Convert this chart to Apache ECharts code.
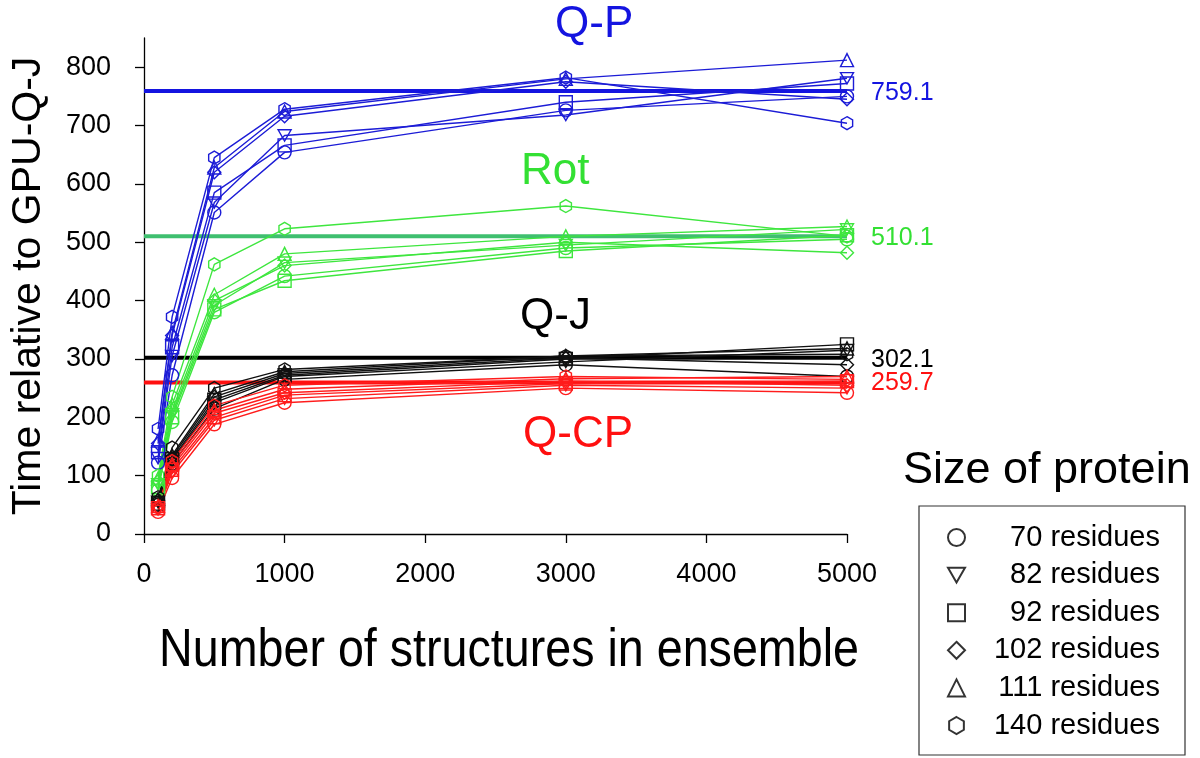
<!DOCTYPE html>
<html>
<head>
<meta charset="utf-8">
<script src="https://cdn.jsdelivr.net/npm/echarts@6/dist/echarts.min.js"></script>
<style>
html,body{margin:0;padding:0;background:#fff;}
#chart{width:1200px;height:758px;}
</style>
</head>
<body>
<div id="chart"></div>
<script>
// ---- data ----
const xValues = [100, 200, 500, 1000, 3000, 5000];
const proteinSizes = ['70 residues', '82 residues', '92 residues', '102 residues', '111 residues', '140 residues'];
const xTicks = [0, 1000, 2000, 3000, 4000, 5000];
const yTicks = [0, 100, 200, 300, 400, 500, 600, 700, 800];

// order: 70, 82, 92, 102, 111, 140 residues
const qpValues = [
  [122, 272, 551, 654, 726, 750],
  [130, 305, 568, 683, 718, 781],
  [140, 320, 585, 666, 740, 772],
  [155, 340, 620, 716, 775, 745],
  [160, 345, 628, 724, 780, 812],
  [180, 372, 645, 728, 782, 704]
];
const rotValues = [
  [75, 192, 380, 442, 490, 505],
  [85, 205, 392, 465, 495, 522],
  [80, 200, 385, 434, 485, 512],
  [90, 212, 400, 460, 500, 482],
  [95, 222, 410, 480, 510, 527],
  [100, 235, 462, 523, 562, 510]
];
const qjValues = [
  [50, 120, 215, 265, 290, 270],
  [55, 125, 225, 270, 295, 315],
  [52, 128, 230, 272, 300, 325],
  [58, 132, 235, 275, 302, 290],
  [60, 135, 240, 278, 305, 318],
  [63, 148, 250, 282, 305, 308]
];
const qcpValues = [
  [38, 96, 188, 225, 250, 242],
  [42, 105, 195, 232, 255, 250],
  [44, 110, 200, 238, 258, 262],
  [46, 115, 207, 242, 262, 255],
  [48, 120, 212, 248, 266, 270],
  [45, 125, 220, 255, 270, 265]
];
const methodNames = ['Q-P', 'Rot', 'Q-J', 'Q-CP'];
const methodMeans = [759.1, 510.1, 302.1, 259.7];
const xAxisTitle = 'Number of structures in ensemble';
const yAxisTitle = 'Time relative to GPU-Q-J';
const legendTitle = 'Size of protein';

// ---- styling ----
const seriesColors = ['#1c1cd6', '#3ee63e', '#111111', '#ff1c1c'];
const meanColors = ['#1414e0', '#3fbf6f', '#000000', '#ff1010'];
const labelColors = ['#1414e0', '#33e033', '#000000', '#ff1010'];
const FONT = '"Liberation Sans", Arial, Helvetica, sans-serif';
const symbols = [
  'circle',
  'path://M0,0L10,0L5,8.66Z',
  'rect',
  'diamond',
  'triangle',
  'path://M5,0L9.33,2.5L9.33,7.5L5,10L0.67,7.5L0.67,2.5Z'
];
const allValues = [qpValues, rotValues, qjValues, qcpValues];

const series = [];
allValues.forEach((group, gi) => {
  group.forEach((vals, si) => {
    series.push({
      type: 'line',
      name: methodNames[gi] + ' ' + proteinSizes[si],
      data: xValues.map((x, i) => [x, vals[i]]),
      symbol: symbols[si],
      symbolKeepAspect: true,
      symbolSize: 13,
      showAllSymbol: true,
      lineStyle: { color: seriesColors[gi], width: 1.4 },
      itemStyle: { color: 'transparent', borderColor: seriesColors[gi], borderWidth: 1.4 },
      emphasis: { disabled: true },
      z: 3
    });
  });
});
methodMeans.forEach((m, gi) => {
  series.push({
    type: 'line',
    name: methodNames[gi] + ' mean',
    data: [[xTicks[0], m], [xTicks[xTicks.length - 1], m]],
    symbol: 'none',
    lineStyle: { color: meanColors[gi], width: 4 },
    z: 2,
    endLabel: {
      show: true,
      formatter: p => p.value[1].toFixed(1),
      color: labelColors[gi],
      fontSize: 25,
      fontFamily: FONT,
      distance: 24,
      offset: [0, gi === 3 ? 1 : 2]
    },
    emphasis: { disabled: true }
  });
});
// legend proxy series
proteinSizes.forEach((s, si) => {
  series.push({
    type: 'scatter',
    name: s,
    data: [],
    symbol: symbols[si],
    symbolKeepAspect: true,
    itemStyle: { color: '#fff', borderColor: '#000', borderWidth: 1.6 }
  });
});

const chart = echarts.init(document.getElementById('chart'));
chart.setOption({
  animation: false,
  backgroundColor: '#fff',
  grid: { left: 140, right: 353, top: 38, bottom: 224, containLabel: false },
  xAxis: {
    type: 'value', min: 0, max: 5000, interval: 1000,
    axisLine: { show: true, lineStyle: { color: '#000', width: 1.3 } },
    axisTick: { show: true, inside: false, length: 9, lineStyle: { color: '#000', width: 1.3 } },
    axisLabel: { fontSize: 27, color: '#000', margin: 27, fontFamily: FONT, formatter: v => String(v) },
    splitLine: { show: false }
  },
  yAxis: {
    type: 'value', min: 0, max: 850, interval: 100,
    axisLine: { show: true, lineStyle: { color: '#000', width: 1.3 } },
    axisTick: { show: true, inside: false, length: 9, customValues: yTicks, lineStyle: { color: '#000', width: 1.3 } },
    axisLabel: { fontSize: 27, color: '#000', margin: 33, customValues: yTicks, fontFamily: FONT },
    splitLine: { show: false },
    name: yAxisTitle,
    nameLocation: 'middle',
    nameGap: 95,
    nameRotate: 90,
    nameTextStyle: { fontSize: 41, color: '#000', fontFamily: FONT }
  },
  legend: {
    data: proteinSizes,
    orient: 'vertical',
    left: 919, top: 506,
    padding: [17, 25, 15, 28],
    itemWidth: 17, itemHeight: 17, itemGap: 8.6, itemTextGap: 4,
    borderColor: '#333', borderWidth: 1.2,
    selectedMode: false,
    formatter: n => '{a|' + n + '}',
    textStyle: {
      color: '#000', fontSize: 29, fontFamily: FONT,
      rich: { a: { width: 190, align: 'right', fontSize: 29, lineHeight: 29, fontFamily: FONT } }
    }
  },
  graphic: [
    { type: 'text', x: 509, y: 651, scaleX: 0.88, style: { text: xAxisTitle, fill: '#000', font: '53px ' + FONT, textAlign: 'center', textVerticalAlign: 'middle' } },
    { type: 'text', left: 555, top: 3, style: { text: methodNames[0], fill: labelColors[0], font: '44px ' + FONT } },
    { type: 'text', left: 521, top: 150, style: { text: methodNames[1], fill: labelColors[1], font: '44px ' + FONT } },
    { type: 'text', left: 520, top: 295, style: { text: methodNames[2], fill: labelColors[2], font: '44px ' + FONT } },
    { type: 'text', left: 523, top: 413, style: { text: methodNames[3], fill: labelColors[3], font: '44px ' + FONT } },
    { type: 'text', left: 903, top: 448, style: { text: legendTitle, fill: '#000', font: '45px ' + FONT } }
  ],
  series: series
});
</script>
</body>
</html>
